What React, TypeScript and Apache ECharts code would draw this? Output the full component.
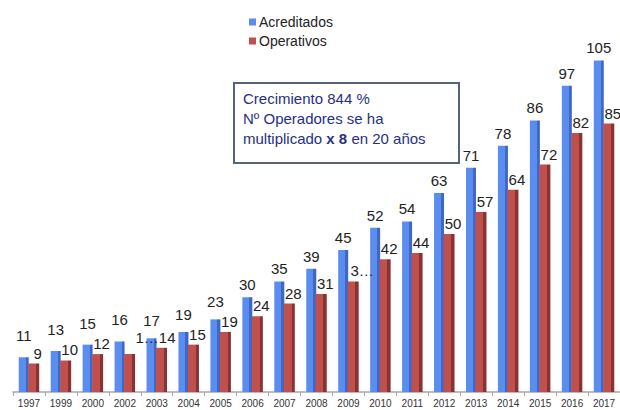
import React, { useEffect, useRef } from "react";
import * as echarts from "echarts";

const years = ["1997","1999","2000","2002","2003","2004","2005","2006","2007","2008","2009","2010","2011","2012","2013","2014","2015","2016","2017"];
const acreditados = [11,13,15,16,17,19,23,30,35,39,45,52,54,63,71,78,86,97,105];
const operativos = [9,10,12,12,14,15,19,24,28,31,35,42,44,50,57,64,72,82,85];
// label texts as shown (some are truncated in the original)
const operativosLabels = ["9","10","12","","1…14","15","19","24","28","31","3…","42","44","50","57","64","72","82","85"];
const boxLines = ["Crecimiento 844 %", "Nº Operadores se ha", "multiplicado {b|x 8} en 20 años"];

const BLUE = "#5B8DEF";
const BLUE_SIDE = "#3D68C6";
const RED = "#C0504D";
const RED_SIDE = "#8A3230";

function grad(main: string, side: string) {
  return new echarts.graphic.LinearGradient(0, 0, 1, 0, [
    { offset: 0, color: main },
    { offset: 0.7, color: main },
    { offset: 0.7, color: side },
    { offset: 1, color: side },
  ]);
}

export default function App() {
  const ref = useRef<HTMLDivElement>(null);
  useEffect(() => {
    document.body.style.margin = "0";
    if (!ref.current) return;
    const chart = echarts.init(ref.current, null, { renderer: "svg" });
    const font = "'Liberation Sans', Arial, sans-serif";
    chart.setOption({
      animation: false,
      textStyle: { fontFamily: font },
      legend: {
        orient: "vertical",
        left: 244,
        top: 10,
        itemWidth: 7,
        itemHeight: 7,
        itemGap: 5,
        icon: "rect",
        textStyle: { fontSize: 14, color: "#222", fontFamily: font, padding: [0, 0, 0, -2] },
        data: [
          { name: "Acreditados", itemStyle: { color: BLUE } },
          { name: "Operativos", itemStyle: { color: RED } },
        ],
      },
      grid: { left: 13, right: -4, top: 13, bottom: 18, containLabel: false },
      xAxis: {
        type: "category",
        data: years,
        axisLine: { show: true, lineStyle: { color: "#a6a6a6", width: 1.5 } },
        axisTick: { show: true, alignWithLabel: false, length: 4, lineStyle: { color: "#a6a6a6" } },
        axisLabel: { fontSize: 10, color: "#333", margin: 6, interval: 0, fontFamily: font },
      },
      yAxis: { type: "value", min: 0, max: 120, show: false, splitLine: { show: false } },
      series: [
        {
          name: "Acreditados",
          type: "bar",
          data: acreditados.map((v, i) => ({
            value: v,
            label: { distance: i < 4 ? 14 : i < 7 ? 10 : 5 },
          })),
          barWidth: 10,
          barGap: "-5%",
          itemStyle: { color: grad(BLUE, BLUE_SIDE) },
          label: {
            show: true,
            position: "top",
            fontSize: 15,
            color: "#222",
            fontFamily: font,
          },
        },
        {
          name: "Operativos",
          type: "bar",
          data: operativos.map((v, i) => ({
            value: v,
            label: {
              formatter: operativosLabels[i],
              offset: i === 4 ? [-6, 0] : i === 10 ? [9, 0] : [4, 0],
            },
          })),
          barWidth: 11,
          itemStyle: { color: grad(RED, RED_SIDE) },
          label: {
            show: true,
            position: "top",
            distance: 3,
            fontSize: 15,
            color: "#222",
            fontFamily: font,
          },
        },
      ],
      graphic: [
        {
          type: "rect",
          left: 233,
          top: 82,
          shape: { width: 225, height: 80 },
          style: { fill: "#ffffff", stroke: "#56637f", lineWidth: 2 },
          z: 100,
        },
        {
          type: "text",
          left: 243,
          top: 88,
          z: 101,
          style: {
            text: boxLines.join("\n"),
            fill: "#262f86",
            fontSize: 15,
            lineHeight: 20,
            fontFamily: font,
            rich: {
              b: { fontWeight: "bold", fill: "#262f86", fontSize: 15, fontFamily: font, lineHeight: 20 },
            },
          },
        },
      ],
    });
    return () => chart.dispose();
  }, []);
  return <div ref={ref} style={{ width: 620, height: 410 }} />;
}
